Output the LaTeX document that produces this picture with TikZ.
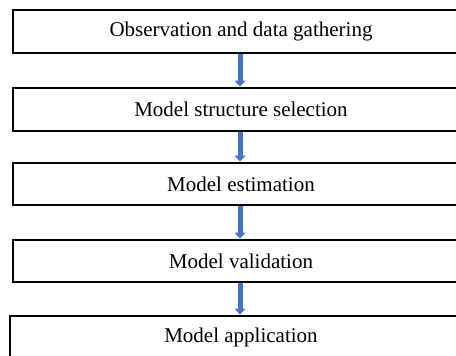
\documentclass[tikz,border=0pt]{standalone}
\usepackage{fontspec}
\setmainfont{Liberation Serif}
\usetikzlibrary{arrows.meta}
\definecolor{arrowblue}{HTML}{4472C4}
\definecolor{arrowedge}{HTML}{2F528F}
\tikzset{
  stepbox/.style={draw=black, line width=2pt, fill=white, minimum width=456pt, minimum height=43pt, inner sep=0pt, font=\fontsize{21pt}{25pt}\selectfont, anchor=north west},
  flow/.style={draw=arrowedge, line width=5pt, -{Triangle[width=11pt,length=6pt]}, color=arrowblue, shorten >=0.5pt}
}
\begin{document}
\begin{tikzpicture}[x=1pt,y=1pt]
\useasboundingbox (0,0) rectangle (456,-356);
\clip (0,0) rectangle (456,-356);
\fill[white] (0,0) rectangle (456,-356);
\node[stepbox] (b1) at (12,-9) {Observation and data gathering};
\node[stepbox] (b2) at (12,-87) {Model structure selection};
\node[stepbox, minimum height=42pt] (b3) at (12,-162) {Model estimation};
\node[stepbox, minimum height=42pt] (b4) at (12,-239) {Model validation};
\node[stepbox, minimum width=462pt] (b5) at (9,-315) {Model application};
\coordinate (a1s) at (240,-52); \coordinate (a1e) at (240,-87);
\coordinate (a2s) at (240,-130); \coordinate (a2e) at (240,-162);
\coordinate (a3s) at (240,-204); \coordinate (a3e) at (240,-239);
\coordinate (a4s) at (240,-281); \coordinate (a4e) at (240,-315);
\draw[flow] (b1.south -| a1s) -- (b2.north -| a1e);
\draw[flow] (b2.south -| a2s) -- (b3.north -| a2e);
\draw[flow] (b3.south -| a3s) -- (b4.north -| a3e);
\draw[flow] (b4.south -| a4s) -- (b5.north -| a4e);
\end{tikzpicture}
\end{document}
